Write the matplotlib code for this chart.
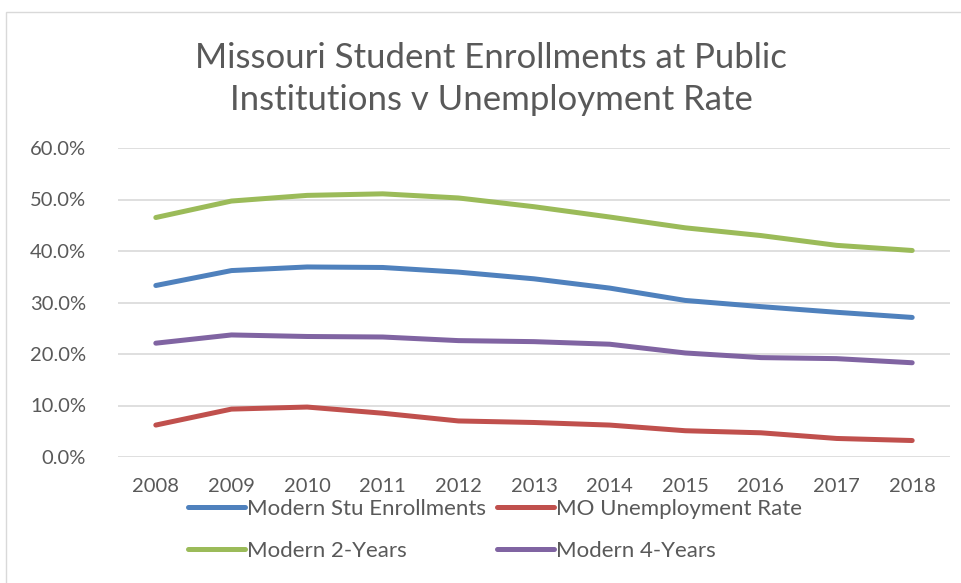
import matplotlib
matplotlib.use("Agg")
import matplotlib.pyplot as plt
from matplotlib.patches import Rectangle
from matplotlib.ticker import FuncFormatter

years = ["2008", "2009", "2010", "2011", "2012", "2013", "2014", "2015", "2016", "2017", "2018"]
stu_enroll = [33.3, 36.2, 36.9, 36.8, 35.9, 34.6, 32.8, 30.4, 29.2, 28.1, 27.1]
mo_unemp = [6.2, 9.3, 9.7, 8.5, 7.0, 6.7, 6.2, 5.1, 4.7, 3.6, 3.2]
two_year = [46.5, 49.7, 50.8, 51.1, 50.3, 48.6, 46.6, 44.5, 43.0, 41.1, 40.1]
four_year = [22.1, 23.7, 23.4, 23.3, 22.6, 22.4, 21.9, 20.2, 19.3, 19.1, 18.3]

TXT = "#595959"
plt.rcParams["font.family"] = ["Lato", "DejaVu Sans"]

W, H = 961, 583
fig = plt.figure(figsize=(W / 100, H / 100), dpi=100)
ax = fig.add_axes([118 / W, 1 - 457 / H, (950 - 118) / W, (457 - 148) / H])

# chart border
fig.patches.append(Rectangle((6 / W, -0.01), 1.0, 1 - 12 / H + 0.01, transform=fig.transFigure,
                             fill=False, edgecolor="#d9d9d9", linewidth=1.0))

x = range(len(years))
h_stu, = ax.plot(x, stu_enroll, color="#4f81bd", lw=3.6, solid_capstyle="round", label="Modern Stu Enrollments")
h_un, = ax.plot(x, mo_unemp, color="#c0504d", lw=3.6, solid_capstyle="round", label="MO Unemployment Rate")
h_2y, = ax.plot(x, two_year, color="#9bbb59", lw=3.6, solid_capstyle="round", label="Modern 2-Years")
h_4y, = ax.plot(x, four_year, color="#8064a2", lw=3.6, solid_capstyle="round", label="Modern 4-Years")

ax.set_xlim(-0.5, len(years) - 0.5)
ax.set_ylim(0, 60)
ax.set_yticks(range(0, 61, 10))
ax.yaxis.set_major_formatter(FuncFormatter(lambda v, p: f"{v:.1f}%"))
ax.set_xticks(list(x))
ax.set_xticklabels(years)
ax.tick_params(length=0, labelsize=14.5, labelcolor=TXT)
ax.tick_params(axis="y", pad=23)
ax.tick_params(axis="x", pad=15)
ax.grid(axis="y", color="#d9d9d9", linewidth=1.2)
ax.set_axisbelow(True)
for s in ax.spines.values():
    s.set_visible(False)

fig.text(491 / W, 1 - 79 / H, "Missouri Student Enrollments at Public\nInstitutions v Unemployment Rate",
         ha="center", va="center", fontsize=25, color=TXT, linespacing=1.42)

fig.legend(handles=[h_stu, h_2y, h_un, h_4y], ncol=2, loc="upper left",
           bbox_to_anchor=(188 / W, 1 - 499 / H), frameon=False, fontsize=16,
           labelcolor=TXT, handlelength=2.55, handletextpad=0.1, columnspacing=0.5,
           labelspacing=1.0, borderpad=0, borderaxespad=0)

fig.savefig("out.png", dpi=100)
